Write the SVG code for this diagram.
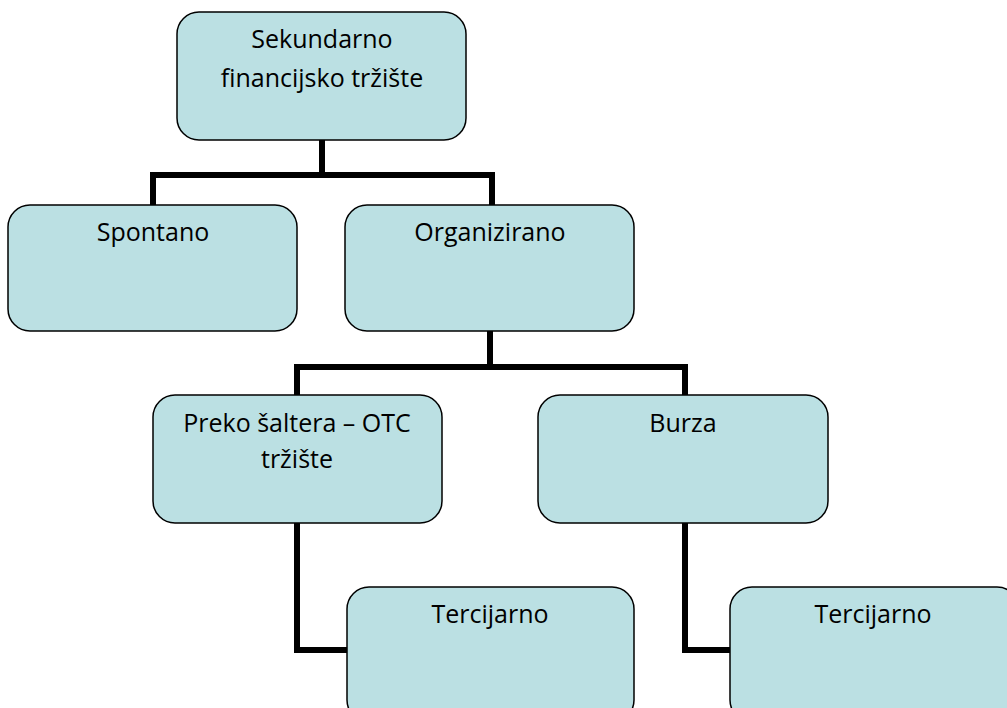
<svg xmlns="http://www.w3.org/2000/svg" width="1007" height="708" viewBox="0 0 1007 708">
<style>
.box{fill:#bbe0e3;stroke:#000;stroke-width:1.5}
.lbl{font-family:"Open Sans","Liberation Sans",sans-serif;font-size:25px;fill:#000;text-anchor:middle}
.con{fill:none;stroke:#000;stroke-width:6}
</style>
<rect width="1007" height="708" fill="#fff"/>
<g id="connectors">
<path class="con" d="M322 140V175M153 205V175H492V205"/>
<path class="con" d="M490 331V367M297 395V367H685V395"/>
<path class="con" d="M297 523V650H347"/>
<path class="con" d="M685 523V650H730"/>
</g>
<g id="n1"><rect class="box" x="177" y="12" width="289" height="128" rx="22"/>
<text class="lbl" x="322" y="48">Sekundarno</text><text class="lbl" x="322" y="87">financijsko tržište</text></g>
<g id="n2"><rect class="box" x="8" y="205" width="289" height="126" rx="22"/>
<text class="lbl" x="153" y="241">Spontano</text></g>
<g id="n3"><rect class="box" x="345" y="205" width="289" height="126" rx="22"/>
<text class="lbl" x="490" y="241">Organizirano</text></g>
<g id="n4"><rect class="box" x="153" y="395" width="289" height="128" rx="22"/>
<text class="lbl" x="297" y="432">Preko šaltera – OTC</text><text class="lbl" x="297" y="468">tržište</text></g>
<g id="n5"><rect class="box" x="538" y="395" width="290" height="128" rx="22"/>
<text class="lbl" x="683" y="432">Burza</text></g>
<g id="n6"><rect class="box" x="347" y="587" width="287" height="135" rx="22"/>
<text class="lbl" x="490" y="623">Tercijarno</text></g>
<g id="n7"><rect class="box" x="730" y="587" width="289" height="135" rx="22"/>
<text class="lbl" x="873" y="623">Tercijarno</text></g>
</svg>
